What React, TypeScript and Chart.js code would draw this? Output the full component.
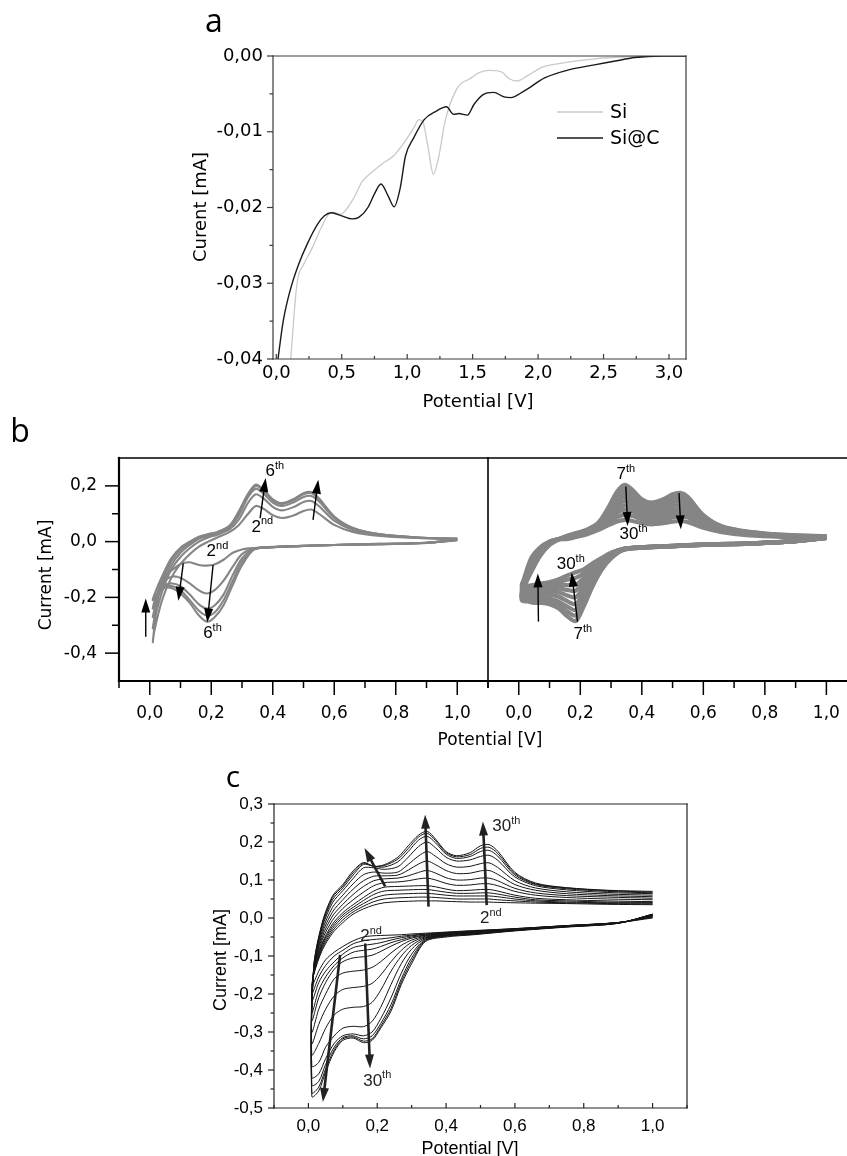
import React, { useEffect, useRef } from "react";
import { Chart, registerables } from "chart.js";

Chart.register(...registerables);

/* ================= Panel a : linear sweep ================= */
const A_SI_POTENTIAL = [0.11, 0.158, 0.21, 0.276, 0.342, 0.395, 0.434, 0.49, 0.58, 0.66, 0.74, 0.82, 0.895, 0.97, 1.05, 1.09, 1.12, 1.16, 1.2, 1.24, 1.29, 1.37, 1.42, 1.47, 1.55, 1.63, 1.72, 1.78, 1.84, 1.92, 2.03, 2.16, 2.42, 2.68, 2.95, 3.13];
const A_SI_CURRENT = [-0.04, -0.0301, -0.0275, -0.0253, -0.0227, -0.021, -0.0206, -0.0209, -0.0191, -0.0165, -0.0152, -0.0141, -0.0132, -0.0116, -0.0095, -0.0084, -0.0087, -0.0121, -0.0156, -0.0134, -0.0086, -0.0046, -0.0035, -0.0031, -0.0022, -0.0019, -0.0021, -0.003, -0.0033, -0.0026, -0.0015, -0.001, -0.0004, -0.0001, 0, 0];
const A_SIC_POTENTIAL = [0.013, 0.053, 0.105, 0.171, 0.237, 0.316, 0.368, 0.42, 0.5, 0.58, 0.63, 0.7, 0.75, 0.8, 0.855, 0.9, 0.947, 0.987, 1.05, 1.13, 1.22, 1.3, 1.355, 1.395, 1.46, 1.51, 1.58, 1.66, 1.74, 1.79, 1.895, 2.05, 2.24, 2.42, 2.58, 2.74, 2.95, 3.13];
const A_SIC_CURRENT = [-0.04, -0.035, -0.031, -0.0275, -0.0248, -0.0222, -0.0211, -0.0207, -0.0211, -0.0215, -0.0213, -0.02, -0.0182, -0.0169, -0.0185, -0.0199, -0.0174, -0.0132, -0.0108, -0.0084, -0.0073, -0.0067, -0.0077, -0.0076, -0.0078, -0.0064, -0.0051, -0.0048, -0.0054, -0.0055, -0.0046, -0.0029, -0.0018, -0.0012, -0.0007, -0.0002, 0, 0];
const A_SERIES_NAMES = ["Si", "Si@C"];
const A_X_MAJOR = [0, 0.5, 1, 1.5, 2, 2.5, 3];
const A_X_MINOR = [0.25, 0.75, 1.25, 1.75, 2.25, 2.75];
const A_Y_MAJOR = [0, -0.01, -0.02, -0.03, -0.04];
const A_Y_MINOR = [-0.005, -0.015, -0.025, -0.035];

/* ================= shared CV sweep potentials ================= */
const CATHODIC_POTENTIAL = [1.0, 0.9, 0.75, 0.6, 0.48, 0.4, 0.34, 0.3, 0.27, 0.24, 0.21, 0.185, 0.16, 0.13, 0.1, 0.075, 0.05, 0.03, 0.01];
const ANODIC_POTENTIAL = [0.015, 0.04, 0.07, 0.1, 0.13, 0.16, 0.19, 0.22, 0.26, 0.29, 0.32, 0.345, 0.37, 0.4, 0.43, 0.47, 0.5, 0.525, 0.55, 0.6, 0.66, 0.75, 0.87, 1.0];

/* ================= Panel b (left) : cycles 2..6 ================= */
const B2_CATH = [0.005, -0.004, -0.008, -0.012, -0.016, -0.019, -0.023, -0.028, -0.04, -0.065, -0.082, -0.086, -0.084, -0.074, -0.08, -0.1, -0.125, -0.17, -0.36];
const B3_CATH = [0.006, -0.004, -0.008, -0.012, -0.016, -0.02, -0.025, -0.045, -0.09, -0.14, -0.175, -0.186, -0.175, -0.15, -0.13, -0.125, -0.14, -0.18, -0.31];
const B4_CATH = [0.006, -0.004, -0.009, -0.012, -0.016, -0.02, -0.026, -0.06, -0.12, -0.19, -0.23, -0.24, -0.225, -0.19, -0.16, -0.15, -0.155, -0.18, -0.27];
const B5_CATH = [0.007, -0.005, -0.009, -0.012, -0.016, -0.02, -0.027, -0.072, -0.14, -0.21, -0.255, -0.265, -0.248, -0.21, -0.175, -0.16, -0.16, -0.18, -0.24];
const B6_CATH = [0.008, -0.005, -0.009, -0.012, -0.016, -0.02, -0.028, -0.085, -0.155, -0.228, -0.272, -0.287, -0.265, -0.22, -0.186, -0.168, -0.165, -0.18, -0.21];
const B2_AN = [-0.32, -0.21, -0.13, -0.08, -0.045, -0.018, 0.0, 0.015, 0.035, 0.06, 0.1, 0.128, 0.118, 0.095, 0.085, 0.095, 0.11, 0.115, 0.1, 0.06, 0.035, 0.02, 0.013, 0.01];
const B3_AN = [-0.28, -0.18, -0.1, -0.055, -0.024, 0.0, 0.015, 0.025, 0.045, 0.08, 0.14, 0.17, 0.155, 0.125, 0.112, 0.125, 0.142, 0.146, 0.128, 0.075, 0.042, 0.023, 0.014, 0.01];
const B4_AN = [-0.245, -0.16, -0.085, -0.04, -0.012, 0.01, 0.02, 0.03, 0.052, 0.095, 0.16, 0.19, 0.172, 0.14, 0.128, 0.142, 0.16, 0.164, 0.145, 0.085, 0.046, 0.025, 0.015, 0.01];
const B5_AN = [-0.215, -0.14, -0.07, -0.03, -0.005, 0.014, 0.024, 0.033, 0.056, 0.105, 0.168, 0.2, 0.182, 0.148, 0.135, 0.15, 0.17, 0.174, 0.152, 0.088, 0.048, 0.026, 0.015, 0.01];
const B6_AN = [-0.19, -0.125, -0.06, -0.022, 0.0, 0.018, 0.027, 0.035, 0.058, 0.11, 0.172, 0.205, 0.186, 0.152, 0.138, 0.154, 0.174, 0.178, 0.156, 0.09, 0.05, 0.026, 0.015, 0.01];
const B_LEFT_CYCLES = [[B2_CATH, B2_AN], [B3_CATH, B3_AN], [B4_CATH, B4_AN], [B5_CATH, B5_AN], [B6_CATH, B6_AN]];

/* ================= Panel b (right) : cycles 7..30 ================= */
const R7_CATH = [0.015, 0.002, -0.007, -0.012, -0.018, -0.022, -0.03, -0.06, -0.1, -0.16, -0.235, -0.285, -0.27, -0.24, -0.225, -0.22, -0.22, -0.215, -0.21];
const R9_CATH = [0.015, 0.002, -0.007, -0.012, -0.018, -0.022, -0.029, -0.057, -0.094, -0.15, -0.22, -0.265, -0.253, -0.228, -0.215, -0.21, -0.21, -0.206, -0.203];
const R11_CATH = [0.015, 0.002, -0.007, -0.012, -0.017, -0.022, -0.029, -0.053, -0.088, -0.14, -0.203, -0.245, -0.235, -0.215, -0.204, -0.2, -0.2, -0.198, -0.196];
const R13_CATH = [0.014, 0.002, -0.007, -0.011, -0.017, -0.021, -0.028, -0.05, -0.082, -0.128, -0.185, -0.225, -0.215, -0.198, -0.19, -0.19, -0.192, -0.19, -0.19];
const R16_CATH = [0.014, 0.002, -0.007, -0.011, -0.017, -0.021, -0.028, -0.047, -0.076, -0.116, -0.165, -0.2, -0.194, -0.182, -0.178, -0.179, -0.181, -0.18, -0.18];
const R19_CATH = [0.013, 0.002, -0.006, -0.011, -0.016, -0.02, -0.027, -0.044, -0.07, -0.104, -0.146, -0.176, -0.174, -0.168, -0.167, -0.169, -0.172, -0.172, -0.172];
const R22_CATH = [0.013, 0.002, -0.006, -0.011, -0.016, -0.02, -0.027, -0.043, -0.066, -0.096, -0.132, -0.155, -0.156, -0.156, -0.159, -0.163, -0.166, -0.166, -0.165];
const R26_CATH = [0.013, 0.002, -0.006, -0.01, -0.016, -0.02, -0.026, -0.041, -0.062, -0.086, -0.115, -0.13, -0.136, -0.144, -0.151, -0.156, -0.159, -0.161, -0.159];
const R30_CATH = [0.012, 0.002, -0.006, -0.01, -0.016, -0.02, -0.026, -0.04, -0.058, -0.078, -0.1, -0.11, -0.12, -0.135, -0.145, -0.15, -0.155, -0.158, -0.155];
const R7_AN = [-0.17, -0.11, -0.05, -0.012, 0.008, 0.022, 0.032, 0.042, 0.07, 0.12, 0.18, 0.204, 0.185, 0.152, 0.14, 0.152, 0.17, 0.175, 0.16, 0.095, 0.055, 0.035, 0.024, 0.02];
const R9_AN = [-0.167, -0.105, -0.047, -0.01, 0.009, 0.021, 0.031, 0.041, 0.067, 0.114, 0.168, 0.19, 0.173, 0.143, 0.132, 0.144, 0.16, 0.165, 0.152, 0.092, 0.053, 0.034, 0.023, 0.019];
const R11_AN = [-0.163, -0.1, -0.043, -0.007, 0.009, 0.019, 0.029, 0.039, 0.063, 0.106, 0.155, 0.175, 0.16, 0.134, 0.124, 0.135, 0.15, 0.155, 0.143, 0.087, 0.051, 0.032, 0.022, 0.018];
const R13_AN = [-0.16, -0.095, -0.04, -0.006, 0.009, 0.018, 0.028, 0.037, 0.06, 0.1, 0.143, 0.16, 0.148, 0.125, 0.115, 0.125, 0.14, 0.145, 0.135, 0.082, 0.05, 0.031, 0.022, 0.018];
const R16_AN = [-0.156, -0.09, -0.036, -0.005, 0.009, 0.016, 0.026, 0.035, 0.056, 0.091, 0.13, 0.145, 0.135, 0.114, 0.104, 0.114, 0.127, 0.131, 0.123, 0.076, 0.047, 0.03, 0.021, 0.017];
const R19_AN = [-0.152, -0.083, -0.032, -0.003, 0.009, 0.015, 0.023, 0.032, 0.052, 0.082, 0.116, 0.13, 0.121, 0.102, 0.094, 0.102, 0.113, 0.117, 0.11, 0.07, 0.044, 0.028, 0.02, 0.016];
const R22_AN = [-0.149, -0.077, -0.028, -0.001, 0.009, 0.013, 0.021, 0.03, 0.049, 0.075, 0.104, 0.115, 0.108, 0.092, 0.085, 0.091, 0.101, 0.104, 0.099, 0.064, 0.041, 0.027, 0.019, 0.016];
const R26_AN = [-0.145, -0.068, -0.024, 0.0, 0.009, 0.012, 0.02, 0.028, 0.046, 0.067, 0.088, 0.097, 0.092, 0.08, 0.073, 0.078, 0.087, 0.09, 0.086, 0.057, 0.038, 0.025, 0.018, 0.015];
const R30_AN = [-0.14, -0.06, -0.02, 0.0, 0.008, 0.01, 0.018, 0.026, 0.042, 0.058, 0.072, 0.078, 0.074, 0.066, 0.062, 0.066, 0.072, 0.074, 0.07, 0.05, 0.034, 0.022, 0.017, 0.015];
const B_RIGHT_CYCLES = [[R7_CATH, R7_AN], [R9_CATH, R9_AN], [R11_CATH, R11_AN], [R13_CATH, R13_AN], [R16_CATH, R16_AN], [R19_CATH, R19_AN], [R22_CATH, R22_AN], [R26_CATH, R26_AN], [R30_CATH, R30_AN]];

const B_X_MAJOR = [0, 0.2, 0.4, 0.6, 0.8, 1.0];
const B_X_MINOR = [-0.1, 0.1, 0.3, 0.5, 0.7, 0.9, 1.1];
const B_Y_MAJOR = [-0.4, -0.2, 0, 0.2];
const B_Y_MINOR = [-0.3, -0.1, 0.1];

/* ================= Panel c : cycles 2..30 ================= */
const C2_CATH = [0.0, -0.012, -0.02, -0.028, -0.033, -0.037, -0.04, -0.042, -0.044, -0.045, -0.046, -0.047, -0.05, -0.06, -0.075, -0.09, -0.11, -0.14, -0.18];
const C3_CATH = [0.002, -0.012, -0.02, -0.028, -0.034, -0.038, -0.042, -0.045, -0.048, -0.052, -0.055, -0.057, -0.06, -0.068, -0.085, -0.1, -0.125, -0.155, -0.2];
const C4_CATH = [0.003, -0.012, -0.02, -0.029, -0.035, -0.039, -0.043, -0.047, -0.052, -0.058, -0.065, -0.069, -0.072, -0.078, -0.095, -0.115, -0.14, -0.17, -0.22];
const C5_CATH = [0.004, -0.012, -0.021, -0.029, -0.035, -0.04, -0.045, -0.05, -0.057, -0.065, -0.075, -0.082, -0.085, -0.09, -0.105, -0.125, -0.155, -0.19, -0.25];
const C6_CATH = [0.005, -0.012, -0.021, -0.03, -0.036, -0.041, -0.046, -0.053, -0.062, -0.074, -0.088, -0.098, -0.102, -0.105, -0.115, -0.135, -0.17, -0.21, -0.27];
const C8_CATH = [0.006, -0.013, -0.021, -0.03, -0.037, -0.042, -0.048, -0.058, -0.072, -0.092, -0.115, -0.13, -0.137, -0.14, -0.145, -0.16, -0.2, -0.24, -0.3];
const C10_CATH = [0.007, -0.013, -0.022, -0.031, -0.038, -0.043, -0.05, -0.064, -0.085, -0.115, -0.15, -0.172, -0.18, -0.183, -0.188, -0.205, -0.24, -0.28, -0.33];
const C12_CATH = [0.008, -0.013, -0.022, -0.031, -0.039, -0.044, -0.052, -0.072, -0.1, -0.14, -0.19, -0.222, -0.233, -0.235, -0.24, -0.255, -0.29, -0.33, -0.36];
const C14_CATH = [0.008, -0.013, -0.022, -0.032, -0.04, -0.045, -0.054, -0.082, -0.12, -0.175, -0.235, -0.272, -0.286, -0.285, -0.29, -0.31, -0.34, -0.38, -0.39];
const C17_CATH = [0.009, -0.013, -0.023, -0.032, -0.041, -0.046, -0.056, -0.095, -0.145, -0.21, -0.265, -0.3, -0.31, -0.305, -0.31, -0.33, -0.37, -0.41, -0.42];
const C20_CATH = [0.01, -0.014, -0.023, -0.033, -0.042, -0.047, -0.058, -0.105, -0.16, -0.228, -0.278, -0.31, -0.318, -0.31, -0.315, -0.34, -0.385, -0.43, -0.44];
const C25_CATH = [0.01, -0.014, -0.023, -0.033, -0.043, -0.048, -0.06, -0.113, -0.168, -0.238, -0.285, -0.318, -0.324, -0.313, -0.318, -0.347, -0.397, -0.445, -0.46];
const C30_CATH = [0.01, -0.014, -0.024, -0.034, -0.044, -0.05, -0.062, -0.12, -0.175, -0.245, -0.29, -0.322, -0.328, -0.316, -0.322, -0.352, -0.405, -0.455, -0.47];
const C2_AN = [-0.15, -0.085, -0.04, -0.012, 0.01, 0.024, 0.034, 0.04, 0.043, 0.044, 0.045, 0.045, 0.045, 0.044, 0.043, 0.042, 0.042, 0.042, 0.041, 0.04, 0.039, 0.038, 0.036, 0.035];
const C3_AN = [-0.15, -0.08, -0.034, -0.005, 0.016, 0.031, 0.043, 0.05, 0.053, 0.054, 0.055, 0.055, 0.054, 0.052, 0.05, 0.05, 0.05, 0.05, 0.048, 0.045, 0.042, 0.04, 0.038, 0.037];
const C4_AN = [-0.148, -0.075, -0.028, 0.002, 0.022, 0.038, 0.052, 0.06, 0.063, 0.064, 0.065, 0.065, 0.063, 0.06, 0.058, 0.058, 0.058, 0.058, 0.056, 0.05, 0.045, 0.042, 0.04, 0.039];
const C5_AN = [-0.147, -0.07, -0.022, 0.008, 0.028, 0.046, 0.062, 0.071, 0.073, 0.074, 0.075, 0.075, 0.072, 0.068, 0.065, 0.065, 0.066, 0.066, 0.063, 0.055, 0.048, 0.045, 0.042, 0.041];
const C6_AN = [-0.146, -0.066, -0.016, 0.014, 0.035, 0.054, 0.071, 0.081, 0.083, 0.084, 0.085, 0.085, 0.082, 0.076, 0.072, 0.073, 0.075, 0.075, 0.071, 0.06, 0.052, 0.048, 0.045, 0.043];
const C8_AN = [-0.145, -0.058, -0.006, 0.025, 0.048, 0.068, 0.085, 0.093, 0.095, 0.098, 0.103, 0.105, 0.1, 0.091, 0.086, 0.087, 0.09, 0.09, 0.085, 0.07, 0.06, 0.054, 0.05, 0.048];
const C10_AN = [-0.143, -0.05, 0.005, 0.036, 0.062, 0.083, 0.098, 0.103, 0.105, 0.111, 0.12, 0.125, 0.118, 0.106, 0.1, 0.101, 0.105, 0.105, 0.098, 0.078, 0.066, 0.059, 0.055, 0.052];
const C12_AN = [-0.142, -0.042, 0.016, 0.048, 0.076, 0.098, 0.11, 0.111, 0.113, 0.126, 0.142, 0.15, 0.14, 0.125, 0.117, 0.118, 0.124, 0.125, 0.115, 0.088, 0.073, 0.064, 0.059, 0.056];
const C14_AN = [-0.14, -0.034, 0.028, 0.06, 0.09, 0.114, 0.121, 0.118, 0.121, 0.141, 0.163, 0.175, 0.162, 0.143, 0.134, 0.136, 0.143, 0.145, 0.133, 0.098, 0.079, 0.069, 0.063, 0.06];
const C17_AN = [-0.138, -0.026, 0.04, 0.072, 0.104, 0.132, 0.132, 0.128, 0.135, 0.16, 0.188, 0.2, 0.184, 0.16, 0.15, 0.153, 0.162, 0.165, 0.152, 0.108, 0.085, 0.074, 0.067, 0.064];
const C20_AN = [-0.136, -0.02, 0.048, 0.079, 0.113, 0.141, 0.136, 0.134, 0.148, 0.175, 0.205, 0.215, 0.197, 0.168, 0.157, 0.162, 0.175, 0.178, 0.163, 0.113, 0.088, 0.077, 0.07, 0.066];
const C25_AN = [-0.134, -0.016, 0.054, 0.084, 0.119, 0.144, 0.136, 0.138, 0.155, 0.183, 0.213, 0.223, 0.203, 0.172, 0.161, 0.167, 0.183, 0.186, 0.17, 0.117, 0.09, 0.079, 0.072, 0.068];
const C30_AN = [-0.132, -0.012, 0.058, 0.088, 0.124, 0.146, 0.136, 0.14, 0.16, 0.19, 0.218, 0.228, 0.207, 0.175, 0.164, 0.172, 0.19, 0.193, 0.176, 0.12, 0.092, 0.08, 0.073, 0.07];
const C_CYCLES = [[C2_CATH, C2_AN], [C3_CATH, C3_AN], [C4_CATH, C4_AN], [C5_CATH, C5_AN], [C6_CATH, C6_AN], [C8_CATH, C8_AN], [C10_CATH, C10_AN], [C12_CATH, C12_AN], [C14_CATH, C14_AN], [C17_CATH, C17_AN], [C20_CATH, C20_AN], [C25_CATH, C25_AN], [C30_CATH, C30_AN]];

const C_X_MAJOR = [0, 0.2, 0.4, 0.6, 0.8, 1.0];
const C_X_MINOR = [-0.1, 0.1, 0.3, 0.5, 0.7, 0.9, 1.1];
const C_Y_MAJOR = [-0.5, -0.4, -0.3, -0.2, -0.1, 0, 0.1, 0.2, 0.3];
const C_Y_MINOR = [-0.45, -0.35, -0.25, -0.15, -0.05, 0.05, 0.15, 0.25];

/* ================= annotations (data coordinates) ================= */
const BL_ARROWS = [[-0.013, -0.341, -0.013, -0.204], [0.109, -0.078, 0.093, -0.212], [0.206, -0.084, 0.187, -0.29], [0.359, 0.084, 0.377, 0.228], [0.531, 0.078, 0.548, 0.222]];
const BL_NOTES = [["6", "th", 0.407, 0.257], ["2", "nd", 0.366, 0.058], ["2", "nd", 0.22, -0.03], ["6", "th", 0.204, -0.323]];
const BR_ARROWS = [[0.348, 0.198, 0.354, 0.056], [0.521, 0.174, 0.527, 0.044], [0.064, -0.287, 0.062, -0.114], [0.191, -0.287, 0.172, -0.111]];
const BR_NOTES = [["7", "th", 0.348, 0.246], ["30", "th", 0.373, 0.03], ["30", "th", 0.169, -0.075], ["7", "th", 0.208, -0.327]];
const C_ARROWS = [[0.349, 0.03, 0.339, 0.272], [0.518, 0.034, 0.507, 0.254], [0.223, 0.083, 0.163, 0.184], [0.165, -0.067, 0.179, -0.396], [0.092, -0.097, 0.042, -0.484]];
const C_NOTES = [["30", "th", 0.575, 0.245], ["2", "nd", 0.53, 0.002], ["2", "nd", 0.182, -0.045], ["30", "th", 0.2, -0.425]];

/* ================= helpers ================= */
const zip = (xs: number[], ys: number[]) => xs.map((x, i) => ({ x, y: ys[i] }));
const loop = (cath: number[], an: number[]) => [...zip(CATHODIC_POTENTIAL, cath), ...zip(ANODIC_POTENTIAL, an)];
const fmt = (v: number, d: number) => {
  const s = Number(v).toFixed(d);
  return (/^-0[.,]0+$/.test(s) ? s.slice(1) : s).replace(".", ",");
};

function makeDecor(cfg: any) {
  return {
    id: "decor",
    afterDatasetsDraw(chart: any) {
      const { ctx, chartArea: ca, scales } = chart;
      const xs = scales.x;
      const ys = scales.y;
      ctx.save();
      ctx.strokeStyle = cfg.color;
      ctx.fillStyle = cfg.color;
      ctx.lineCap = "butt";
      const seg = (x1: number, y1: number, x2: number, y2: number, w: number) => {
        ctx.lineWidth = w;
        ctx.beginPath();
        ctx.moveTo(x1, y1);
        ctx.lineTo(x2, y2);
        ctx.stroke();
      };
      const f = cfg.frame;
      const ext = Math.max(f.left || 0, f.right || 0, f.top || 0, f.bottom || 0) / 2;
      if (f.left) seg(ca.left, ca.top - ext, ca.left, ca.bottom + ext, f.left);
      if (f.right) seg(ca.right, ca.top - ext, ca.right, ca.bottom + ext, f.right);
      if (f.top) seg(ca.left - ext, ca.top, ca.right + ext, ca.top, f.top);
      if (f.bottom) seg(ca.left - ext, ca.bottom, ca.right + ext, ca.bottom, f.bottom);
      for (const t of cfg.ticks) {
        for (const v of t.values) {
          if (t.axis === "x") {
            if (v < xs.min - 1e-9 || v > xs.max + 1e-9) continue;
            const px = xs.getPixelForValue(v);
            seg(px, ca.bottom, px, t.dir === "out" ? ca.bottom + t.len : ca.bottom - t.len, t.width);
          } else {
            if (v < ys.min - 1e-9 || v > ys.max + 1e-9) continue;
            const py = ys.getPixelForValue(v);
            seg(ca.left, py, t.dir === "out" ? ca.left - t.len : ca.left + t.len, py, t.width);
          }
        }
      }
      for (const a of cfg.arrows || []) {
        const x1 = xs.getPixelForValue(a[0]);
        const y1 = ys.getPixelForValue(a[1]);
        const x2 = xs.getPixelForValue(a[2]);
        const y2 = ys.getPixelForValue(a[3]);
        const L = Math.hypot(x2 - x1, y2 - y1);
        const ux = (x2 - x1) / L;
        const uy = (y2 - y1) / L;
        const hl = cfg.head.len;
        const hw = cfg.head.width / 2;
        const bx = x2 - ux * hl;
        const by = y2 - uy * hl;
        seg(x1, y1, bx + ux * 1, by + uy * 1, cfg.head.line);
        ctx.beginPath();
        ctx.moveTo(x2, y2);
        ctx.lineTo(bx - uy * hw, by + ux * hw);
        ctx.lineTo(bx + uy * hw, by - ux * hw);
        ctx.closePath();
        ctx.fill();
      }
      for (const n of cfg.notes || []) {
        const px = xs.getPixelForValue(n[2]);
        const py = ys.getPixelForValue(n[3]);
        ctx.font = `${cfg.noteSize}px ${cfg.noteFamily}`;
        const w1 = ctx.measureText(n[0]).width;
        ctx.font = `${cfg.supSize}px ${cfg.noteFamily}`;
        const w2 = ctx.measureText(n[1]).width;
        const start = px - (w1 + w2) / 2;
        const base = py + cfg.noteSize * 0.36;
        ctx.textBaseline = "alphabetic";
        ctx.textAlign = "left";
        ctx.font = `${cfg.noteSize}px ${cfg.noteFamily}`;
        ctx.fillText(n[0], start, base);
        ctx.font = `${cfg.supSize}px ${cfg.noteFamily}`;
        ctx.fillText(n[1], start + w1, base - cfg.noteSize * 0.42);
      }
      if (cfg.legend) {
        const lg = cfg.legend;
        chart.data.datasets.forEach((ds: any, i: number) => {
          const y = lg.y + i * lg.dy;
          ctx.strokeStyle = ds.borderColor;
          seg(lg.x, y, lg.x + lg.len, y, ds.borderWidth);
          ctx.fillStyle = "#000";
          ctx.font = lg.font;
          ctx.textBaseline = "middle";
          ctx.textAlign = "left";
          ctx.fillText(ds.label, lg.x + lg.len + lg.gap, y + 1);
        });
      }
      ctx.restore();
    },
  };
}

function makeConfig(p: any) {
  return {
    type: "line",
    data: { datasets: p.datasets },
    options: {
      responsive: false,
      animation: false,
      events: [],
      layout: { padding: p.padding },
      plugins: { legend: { display: false }, tooltip: { enabled: false }, title: { display: false } },
      elements: { point: { radius: 0 } },
      scales: {
        x: {
          type: "linear",
          bounds: "data",
          min: p.x[0],
          max: p.x[1],
          grid: { display: false, drawTicks: false },
          border: { display: false },
          afterBuildTicks: (s: any) => {
            s.ticks = p.xTicks.map((v: number) => ({ value: v }));
          },
          afterFit: (s: any) => {
            s.height = p.xHeight;
            s.paddingLeft = 0;
            s.paddingRight = 0;
          },
          ticks: {
            autoSkip: false,
            maxRotation: 0,
            minRotation: 0,
            color: "#000",
            padding: p.xPad,
            font: p.font,
            callback: (v: number) => fmt(v, p.xDec),
          },
        },
        y: {
          type: "linear",
          bounds: "data",
          display: p.showY,
          min: p.y[0],
          max: p.y[1],
          grid: { display: false, drawTicks: false },
          border: { display: false },
          afterBuildTicks: (s: any) => {
            s.ticks = p.yTicks.map((v: number) => ({ value: v }));
          },
          afterFit: (s: any) => {
            s.width = p.yWidth;
            s.paddingTop = 0;
            s.paddingBottom = 0;
          },
          ticks: {
            autoSkip: false,
            color: "#000",
            padding: p.yPad,
            font: p.font,
            callback: (v: number) => fmt(v, p.yDec),
          },
        },
      },
    },
    plugins: [makeDecor(p.decor)],
  };
}

function ChartBox({ left, top, width, height, build }: any) {
  const ref = useRef<HTMLCanvasElement>(null);
  useEffect(() => {
    const chart = new Chart(ref.current as HTMLCanvasElement, build() as any);
    return () => chart.destroy();
  }, []);
  return (
    <canvas
      ref={ref}
      width={width}
      height={height}
      style={{ position: "absolute", left, top, width, height }}
    />
  );
}

function Label({ x, y, text, size, family, rotate }: any) {
  return (
    <div
      style={{
        position: "absolute",
        left: x,
        top: y,
        transform: `translate(-50%, -50%)${rotate ? " rotate(-90deg)" : ""}`,
        fontFamily: family,
        fontSize: size,
        lineHeight: 1,
        whiteSpace: "nowrap",
        color: "#000",
      }}
    >
      {text}
    </div>
  );
}

const DEJAVU = "'DejaVu Sans', sans-serif";
const ARIAL = "'Liberation Sans', Arial, sans-serif";
const LETTER = "'Open Sans', 'Noto Sans', sans-serif";

const buildA = () =>
  makeConfig({
    datasets: [
      { label: A_SERIES_NAMES[0], data: zip(A_SI_POTENTIAL, A_SI_CURRENT), borderColor: "#c9c9c9", borderWidth: 1.3, cubicInterpolationMode: "monotone", order: 1 },
      { label: A_SERIES_NAMES[1], data: zip(A_SIC_POTENTIAL, A_SIC_CURRENT), borderColor: "#1a1a1a", borderWidth: 1.4, cubicInterpolationMode: "monotone", order: 0 },
    ],
    padding: { left: 0, top: 56, right: 161, bottom: 0 },
    x: [-0.025, 3.13],
    y: [-0.04, 0],
    xTicks: A_X_MAJOR,
    yTicks: A_Y_MAJOR,
    xHeight: 61,
    yWidth: 273,
    xPad: 4,
    yPad: 10,
    xDec: 1,
    yDec: 2,
    showY: true,
    font: { family: DEJAVU, size: 18 },
    decor: {
      color: "#3a3a3a",
      frame: { left: 1.2, right: 1.2, top: 1.2, bottom: 1.2 },
      ticks: [
        { axis: "x", values: A_X_MAJOR, len: 5, dir: "in", width: 1.2 },
        { axis: "x", values: A_X_MINOR, len: 3, dir: "in", width: 1.2 },
        { axis: "y", values: A_Y_MAJOR, len: 6, dir: "out", width: 1.2 },
        { axis: "y", values: A_Y_MINOR, len: 3.5, dir: "out", width: 1.2 },
      ],
      legend: { x: 557, y: 112, dy: 26, len: 46, gap: 7, font: `19px ${DEJAVU}` },
    },
  });

const bDecor = (frame: any, yTicks: boolean, arrows: any, notes: any) => ({
  color: "#000",
  frame,
  ticks: [
    { axis: "x", values: B_X_MAJOR, len: 14, dir: "out", width: 1.5 },
    { axis: "x", values: B_X_MINOR, len: 7, dir: "out", width: 1.5 },
    ...(yTicks
      ? [
          { axis: "y", values: B_Y_MAJOR, len: 14, dir: "out", width: 1.5 },
          { axis: "y", values: B_Y_MINOR, len: 7, dir: "out", width: 1.5 },
        ]
      : []),
  ],
  arrows,
  notes,
  head: { len: 14, width: 9, line: 1.4 },
  noteSize: 17,
  supSize: 11,
  noteFamily: ARIAL,
});

const buildBL = () =>
  makeConfig({
    datasets: B_LEFT_CYCLES.map(([c, a], i) => ({
      label: `cycle ${i + 2}`,
      data: loop(c, a),
      borderColor: "#858585",
      borderWidth: 2.1,
      tension: 0.3,
    })),
    padding: { left: 0, top: 28, right: 12, bottom: 0 },
    x: [-0.1, 1.1],
    y: [-0.5, 0.3],
    xTicks: B_X_MAJOR,
    yTicks: B_Y_MAJOR,
    xHeight: 79,
    yWidth: 119,
    xPad: 22,
    yPad: 22,
    xDec: 1,
    yDec: 1,
    showY: true,
    font: { family: DEJAVU, size: 17 },
    decor: bDecor({ left: 2.2, top: 1.5, bottom: 2.2 }, true, BL_ARROWS, BL_NOTES),
  });

const buildBR = () =>
  makeConfig({
    datasets: B_RIGHT_CYCLES.map(([c, a], i) => ({
      label: `cycle ${i}`,
      data: loop(c, a),
      borderColor: "#858585",
      borderWidth: 4.2,
      tension: 0.3,
    })),
    padding: { left: 8, top: 28, right: 0, bottom: 0 },
    x: [-0.1, 1.067],
    y: [-0.5, 0.3],
    xTicks: B_X_MAJOR,
    yTicks: B_Y_MAJOR,
    xHeight: 79,
    yWidth: 0,
    xPad: 22,
    yPad: 22,
    xDec: 1,
    yDec: 1,
    showY: false,
    font: { family: DEJAVU, size: 17 },
    decor: bDecor({ left: 1.6, top: 1.5, bottom: 2.2 }, false, BR_ARROWS, BR_NOTES),
  });

const buildC = () =>
  makeConfig({
    datasets: C_CYCLES.map(([c, a], i) => ({
      label: `cycle ${i}`,
      data: loop(c, a),
      borderColor: "#141414",
      borderWidth: 1,
      tension: 0.3,
    })),
    padding: { left: 0, top: 34, right: 160, bottom: 0 },
    x: [-0.1, 1.1],
    y: [-0.5, 0.3],
    xTicks: C_X_MAJOR,
    yTicks: C_Y_MAJOR,
    xHeight: 48,
    yWidth: 274,
    xPad: 8,
    yPad: 11,
    xDec: 1,
    yDec: 1,
    showY: true,
    font: { family: ARIAL, size: 17 },
    decor: {
      color: "#222",
      frame: { left: 1.2, right: 1.2, top: 1.2, bottom: 1.2 },
      ticks: [
        { axis: "x", values: C_X_MAJOR, len: 5, dir: "in", width: 1.2 },
        { axis: "x", values: C_X_MINOR, len: 3, dir: "in", width: 1.2 },
        { axis: "y", values: C_Y_MAJOR, len: 6, dir: "out", width: 1.2 },
        { axis: "y", values: C_Y_MINOR, len: 3.5, dir: "out", width: 1.2 },
      ],
      arrows: C_ARROWS,
      notes: C_NOTES,
      head: { len: 14, width: 9, line: 2.6 },
      noteSize: 17,
      supSize: 11,
      noteFamily: ARIAL,
    },
  });

export default function App() {
  return (
    <div style={{ position: "absolute", left: 0, top: 0, width: 847, height: 1156, background: "#fff", overflow: "hidden" }}>
      <ChartBox left={0} top={0} width={847} height={420} build={buildA} />
      <ChartBox left={0} top={430} width={500} height={330} build={buildBL} />
      <ChartBox left={480} top={430} width={367} height={330} build={buildBR} />
      <ChartBox left={0} top={770} width={847} height={386} build={buildC} />

      <Label x={214} y={20} text="a" size={32} family={LETTER} />
      <Label x={20} y={430} text="b" size={32} family={LETTER} />
      <Label x={233} y={776} text="c" size={30} family={LETTER} />

      <Label x={478} y={401} text="Potential [V]" size={18} family={DEJAVU} />
      <Label x={200} y={207} text="Curent [mA]" size={18} family={DEJAVU} rotate />

      <Label x={490} y={739} text="Potential [V]" size={17} family={DEJAVU} />
      <Label x={45} y={575} text="Current [mA]" size={17} family={DEJAVU} rotate />

      <Label x={470} y={1148} text="Potential [V]" size={18} family={ARIAL} />
      <Label x={220} y={960} text="Current [mA]" size={18} family={ARIAL} rotate />
    </div>
  );
}
